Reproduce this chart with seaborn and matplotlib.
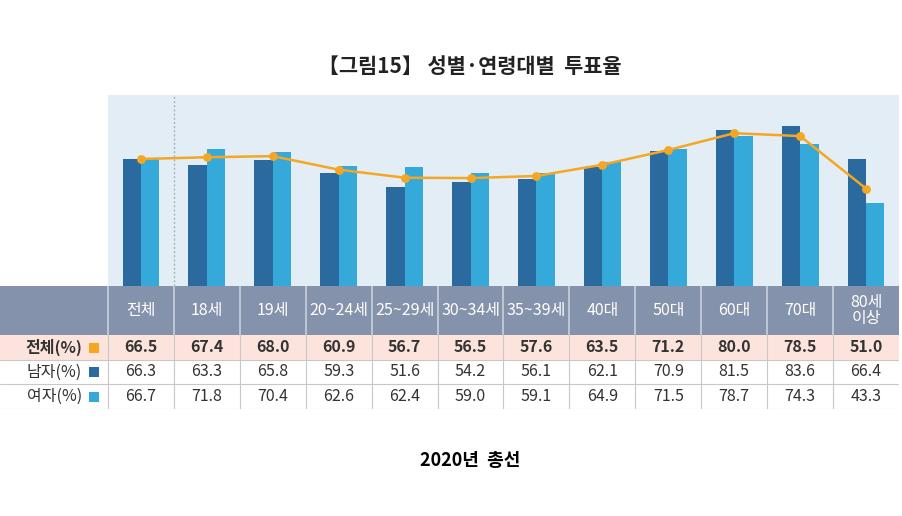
import numpy as np
import pandas as pd
import matplotlib
matplotlib.use('Agg')
import matplotlib.pyplot as plt
from matplotlib.patches import Rectangle
import seaborn as sns

sns.set_style('white')
plt.rcParams['font.family'] = ['Noto Sans CJK KR', 'DejaVu Sans']

# data
groups = ['전체', '18세', '19세', '20~24세', '25~29세', '30~34세', '35~39세',
          '40대', '50대', '60대', '70대', '80세\n이상']
total = [66.5, 67.4, 68.0, 60.9, 56.7, 56.5, 57.6, 63.5, 71.2, 80.0, 78.5, 51.0]
male = [66.3, 63.3, 65.8, 59.3, 51.6, 54.2, 56.1, 62.1, 70.9, 81.5, 83.6, 66.4]
female = [66.7, 71.8, 70.4, 62.6, 62.4, 59.0, 59.1, 64.9, 71.5, 78.7, 74.3, 43.3]
row_labels = ['전체(%)', '남자(%)', '여자(%)']

c_total = '#F5A623'
c_male = '#2B6A9E'
c_female = '#35A9D9'

W, H = 903, 516
fig = plt.figure(figsize=(W / 100, H / 100), dpi=100)

# ---- bar chart ----
x0, x1 = 108, 899
ax = fig.add_axes([x0 / W, 1 - 286 / H, (x1 - x0) / W, (286 - 95) / H])
ax.set_facecolor('#E2EDF6')

df = pd.DataFrame({
    'group': groups * 2,
    'sex': ['남자'] * len(groups) + ['여자'] * len(groups),
    'value': male + female,
})
sns.barplot(data=df, x='group', y='value', hue='sex', order=groups,
            palette=[c_male, c_female], width=0.56, saturation=1,
            linewidth=0, legend=False, ax=ax)
sns.pointplot(x=groups, y=total, order=groups, color=c_total,
              markers='o', markersize=5, linewidth=1.8, ax=ax)
ax.axvline(0.5, color='#A8B4C0', lw=1, ls=(0, (1.5, 1.5)))
ax.set_ylim(0, 100)
ax.set_xlim(-0.5, len(groups) - 0.5)
ax.set_xticks([])
ax.set_yticks([])
ax.set_xlabel('')
ax.set_ylabel('')
for s in ax.spines.values():
    s.set_visible(False)

# ---- table under the chart ----
tab = fig.add_axes([0, 1 - 409 / H, x1 / W, (409 - 286) / H])
tab.set_xlim(0, x1)
tab.set_ylim(409, 286)
tab.axis('off')

ncol = len(groups)
cw = (x1 - x0) / ncol
header = (286, 335)
rows = [(335, 360), (360, 384), (384, 409)]

tab.add_patch(Rectangle((0, header[0]), x1, header[1] - header[0],
                        color='#8592AB', lw=0))
tab.add_patch(Rectangle((0, rows[0][0]), x1, rows[0][1] - rows[0][0],
                        color='#FCE4DC', lw=0))
for i, g in enumerate(groups):
    cx = x0 + cw * (i + 0.5)
    tab.text(cx, sum(header) / 2, g, ha='center', va='center', color='white',
             fontsize=11.5, linespacing=1.0)
    tab.plot([x0 + cw * i] * 2, [header[0], header[1]], color='#C9D0DC', lw=1.2)
    tab.plot([x0 + cw * i] * 2, [rows[0][0], rows[2][1]], color='#C8C8C8', lw=0.8)
    for r, vals in enumerate([total, male, female]):
        tab.text(cx, sum(rows[r]) / 2, f'{vals[i]:.1f}', ha='center', va='center',
                 color='#333333', fontsize=11.5,
                 fontweight='bold' if r == 0 else 'normal')
for y in [rows[0][1], rows[1][1], rows[2][1]]:
    tab.plot([0, x1], [y, y], color='#C8C8C8', lw=0.8)

for r, (lab, col) in enumerate(zip(row_labels, [c_total, c_male, c_female])):
    ym = sum(rows[r]) / 2
    tab.text(82, ym, lab, ha='right', va='center', color='#333333', fontsize=11.5,
             fontweight='bold' if r == 0 else 'normal')
    tab.add_patch(Rectangle((89, ym - 5), 10, 10, color=col, lw=0))

fig.text(470 / W, 1 - 66 / H, '【그림15】 성별·연령대별  투표율', ha='center', va='center',
         fontsize=15, fontweight='bold', color='#222222')
fig.text(470 / W, 1 - 461 / H, '2020년  총선', ha='center', va='center',
         fontsize=13, fontweight='bold', color='black')

fig.savefig('out.png', dpi=100)
